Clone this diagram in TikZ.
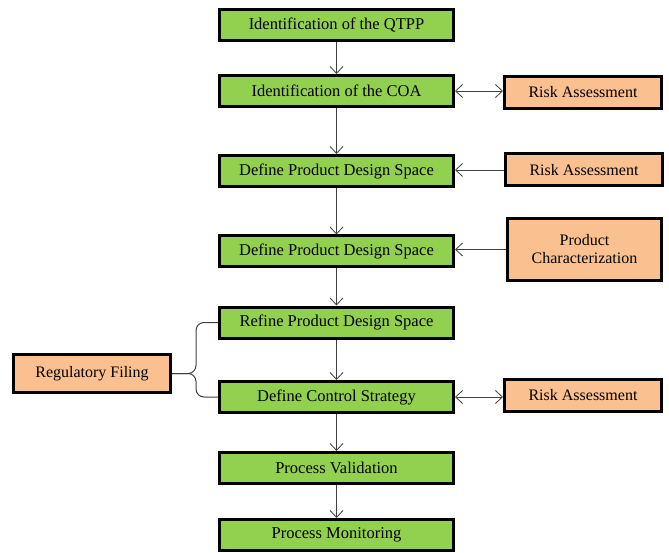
\documentclass[tikz,border=0pt]{standalone}
\usepackage{fontspec}
\setmainfont{Liberation Serif}
\usetikzlibrary{arrows.meta}
\definecolor{leafgreen}{HTML}{92D050}
\definecolor{peach}{HTML}{FAC090}
\begin{document}
\begin{tikzpicture}[x=1pt, y=-1pt,
    greenbox/.style={draw=black, line width=3pt, fill=leafgreen, minimum width=234pt, minimum height=31pt, inner sep=0pt, font=\fontsize{16.5}{18}\selectfont},
    orangebox/.style={draw=black, line width=3pt, fill=peach, minimum width=157pt, minimum height=32pt, inner sep=0pt, align=center, font=\fontsize{16}{18}\selectfont},
    barb/.tip={Straight Barb[length=7pt,width=13pt]},
    link/.style={draw=black!75, line width=0.8pt, -barb}]
  \useasboundingbox (0,0) rectangle (669,553);
  % main chain
  \node[greenbox] (qtpp) at (336.5,25.5) {Identification of the QTPP};
  \node[greenbox] (coa) at (336.5,91) {Identification of the COA};
  \node[greenbox] (pds1) at (336.5,171) {Define Product Design Space};
  \node[greenbox] (pds2) at (336.5,251.5) {Define Product Design Space};
  \node[greenbox] (refine) at (336.5,322.5) {Refine Product Design Space};
  \node[greenbox] (ctrl) at (336.5,397) {Define Control Strategy};
  \node[greenbox] (valid) at (336.5,468) {Process Validation};
  \node[greenbox] (monit) at (336.5,535) {Process Monitoring};
  % side inputs
  \node[orangebox] (risk1) at (583,92.5) {Risk Assessment};
  \node[orangebox] (risk2) at (584,170) {Risk Assessment};
  \node[orangebox, minimum width=154pt, minimum height=62pt] (charac) at (584.5,249.5) {Product\\Characterization};
  \node[orangebox] (risk3) at (583,395) {Risk Assessment};
  \node[orangebox, minimum height=38pt] (filing) at (92,373.5) {Regulatory Filing};
  \foreach \a/\b in {qtpp/coa,coa/pds1,pds1/pds2,pds2/refine,refine/ctrl,ctrl/valid,valid/monit}
    \draw[link] (\a) -- (\b);
  \draw[link, barb-barb] (coa.east) -- (coa.east -| risk1.west);
  \draw[link] (risk2.west) -- (risk2.west -| pds1.east);
  \draw[link] (charac.west) -- (charac.west -| pds2.east);
  \draw[link, barb-barb] (ctrl.east) -- (ctrl.east -| risk3.west);
  % bracket
  \coordinate (fork) at (196,373.5);
  \draw[black!75, line width=1pt, rounded corners=8pt] (filing.east) -- (fork) |- (refine.west);
  \draw[black!75, line width=1pt, rounded corners=8pt] (filing.east) -- (fork) |- (ctrl.west);
\end{tikzpicture}
\end{document}
